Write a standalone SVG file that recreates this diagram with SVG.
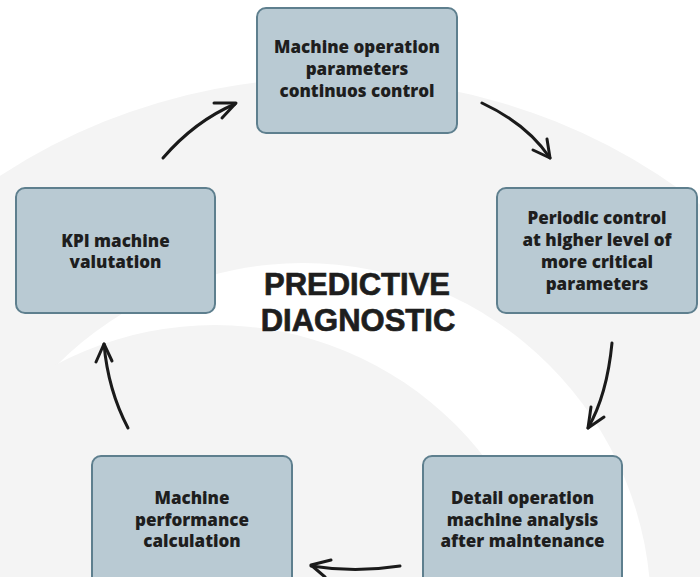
<svg xmlns="http://www.w3.org/2000/svg" width="700" height="577" viewBox="0 0 700 577">
<style>
.box{fill:#b9cad3;stroke:#5e7f8e;stroke-width:2}
.t{font-family:"Open Sans","Liberation Sans",sans-serif;font-weight:800;font-size:17px;fill:#1e1e1e;text-anchor:middle}
.title{font-family:"Liberation Sans",Arial,sans-serif;font-weight:700;font-size:31px;fill:#1e1e1e;stroke:#1e1e1e;stroke-width:0.7;text-anchor:middle}
.arr{fill:none;stroke:#1a1a1a;stroke-width:3;stroke-linecap:round;stroke-linejoin:round}
</style>
<rect width="700" height="577" fill="#ffffff"/>
<g id="background">
<ellipse cx="330" cy="650" rx="590" ry="572" fill="#f4f4f4"/>
<circle cx="303" cy="611" r="348" fill="#ffffff"/>
<circle cx="215" cy="665" r="340" fill="#f4f4f4"/>
</g>
<g id="connectors">
<path class="arr" d="M163,158 Q195,121 235,104"/>
<path class="arr" d="M214,103 L236,103 L222,118"/>
<path class="arr" d="M482,103 Q527,124 550,158"/>
<path class="arr" d="M547,139 L550,158 L533,150"/>
<path class="arr" d="M612,343 Q607,395 588,428"/>
<path class="arr" d="M591,407 L588,428 L604,417"/>
<path class="arr" d="M400,566 Q355,573 311,566"/>
<path class="arr" d="M331,560 L311,565 L325,577"/>
<path class="arr" d="M128,428 Q108,390 104,344"/>
<path class="arr" d="M96,362 L104,344 L112,361"/>
</g>
<g id="node-top">
<rect class="box" x="257" y="8" width="200" height="125" rx="9"/>
<text class="t" x="357" y="53">Machine operation</text>
<text class="t" x="357" y="75">parameters</text>
<text class="t" x="357" y="97">continuos control</text>
</g>
<g id="node-right">
<rect class="box" x="497" y="188" width="200" height="125" rx="9"/>
<text class="t" x="597" y="224">Periodic control</text>
<text class="t" x="597" y="246">at higher level of</text>
<text class="t" x="597" y="268">more critical</text>
<text class="t" x="597" y="290">parameters</text>
</g>
<g id="node-left">
<rect class="box" x="16" y="188" width="199" height="125" rx="9"/>
<text class="t" x="115.5" y="246.5">KPI machine</text>
<text class="t" x="115.5" y="268">valutation</text>
</g>
<g id="node-bottom-right">
<rect class="box" x="423" y="456" width="199" height="135" rx="9"/>
<text class="t" x="522.5" y="504">Detail operation</text>
<text class="t" x="522.5" y="525.5">machine analysis</text>
<text class="t" x="522.5" y="547">after maintenance</text>
</g>
<g id="node-bottom-left">
<rect class="box" x="92" y="456" width="200" height="135" rx="9"/>
<text class="t" x="192" y="504">Machine</text>
<text class="t" x="192" y="525.5">performance</text>
<text class="t" x="192" y="547">calculation</text>
</g>
<g id="title">
<text class="title" x="357" y="295">PREDICTIVE</text>
<text class="title" x="358" y="331">DIAGNOSTIC</text>
</g>
</svg>
